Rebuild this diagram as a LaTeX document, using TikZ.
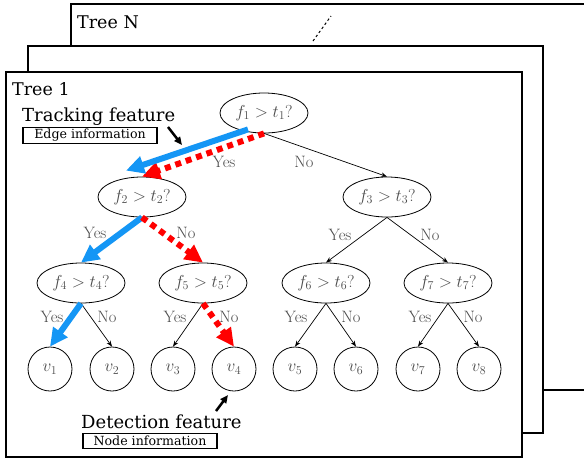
\documentclass[tikz,border=0pt]{standalone}
\usepackage{fontspec}
\newfontfamily\schfont{DejaVu Serif}
\usetikzlibrary{arrows.meta,shapes.geometric}
\definecolor{myblue}{RGB}{20,150,245}
\definecolor{txtgray}{RGB}{75,75,75}
\begin{document}
\begin{tikzpicture}[x=1pt,y=-1pt,
  frame/.style={draw, fill=white, line width=1.2pt},
  dec/.style={ellipse, draw, line width=0.8pt, minimum width=88pt, minimum height=40pt, inner sep=0pt, text=txtgray, font=\fontsize{18.5}{20}\selectfont},
  leaf/.style={circle, draw, line width=0.8pt, minimum size=44pt, inner sep=0pt, text=txtgray, font=\fontsize{18.5}{20}\selectfont},
  lbl/.style={text=txtgray, font=\fontsize{16.5}{18}\selectfont, inner sep=0pt},
  edge/.style={-{Stealth[length=6pt,width=4.5pt]}, line width=0.7pt},
  bluepath/.style={myblue, line width=6pt, -{Triangle[length=18pt,width=17pt]}},
  redpath/.style={red, line width=6pt, dash pattern=on 6pt off 5pt, -{Triangle[length=18pt,width=17pt]}},
  callout/.style={line width=2.5pt, -{Triangle[length=8pt,width=7pt]}},
  infobox/.style={draw, line width=1.2pt, minimum width=134pt, minimum height=15.5pt, inner sep=0pt, font=\schfont\fontsize{12.6}{14}\selectfont},
  bigtxt/.style={font=\schfont\fontsize{18}{20}\selectfont, inner sep=0pt, anchor=base west},
  treelbl/.style={font=\schfont\fontsize{17.5}{20}\selectfont, inner sep=0pt, anchor=base west}]
\useasboundingbox (0,0) rectangle (584,459);
\clip (0,0) rectangle (584,459);
\fill[white] (0,0) rectangle (584,459);
% frames
\draw[frame] (71,4) rectangle (600,390);
\draw[frame] (28,46) rectangle (543,433);
\draw[frame] (6,72) rectangle (522,457);
\node[treelbl] (treeN) at (77,28) {Tree N};
\coordinate (dotA) at (313,41);
\coordinate (dotB) at (331,16);
\draw[line width=1pt, dash pattern=on 2.5pt off 2.5pt] (dotA) -- (dotB);
\node[treelbl] (tree1) at (12,95) {Tree 1};
% decision nodes
\node[dec] (f1) at (264,113) {$f_1 > t_1?$};
\node[dec] (f2) at (142,197) {$f_2 > t_2?$};
\node[dec] (f3) at (387,197) {$f_3 > t_3?$};
\node[dec] (f4) at (81,283) {$f_4 > t_4?$};
\node[dec] (f5) at (203,283) {$f_5 > t_5?$};
\node[dec] (f6) at (326,283) {$f_6 > t_6?$};
\node[dec] (f7) at (448,283) {$f_7 > t_7?$};
% leaves
\node[leaf] (v1) at (50,369) {$v_1$};
\node[leaf] (v2) at (112,369) {$v_2$};
\node[leaf] (v3) at (173,369) {$v_3$};
\node[leaf] (v4) at (234,369) {$v_4$};
\node[leaf] (v5) at (295,369) {$v_5$};
\node[leaf] (v6) at (356,369) {$v_6$};
\node[leaf] (v7) at (418,369) {$v_7$};
\node[leaf] (v8) at (479,369) {$v_8$};
% plain edges
\draw[edge] (f1.south) -- (f3.north);
\draw[edge] (f3.south) -- (f6.north);
\draw[edge] (f3.south) -- (f7.north);
\draw[edge] (f4.south) -- (v2.north);
\draw[edge] (f5.south) -- (v3.north);
\draw[edge] (f6.south) -- (v5.north);
\draw[edge] (f6.south) -- (v6.north);
\draw[edge] (f7.south) -- (v7.north);
\draw[edge] (f7.south) -- (v8.north);
% highlighted paths
\draw[redpath] (f1.south) -- (f2.north);
\draw[bluepath] ([shift={(-16,-4)}]f1.south) -- ([shift={(-16,-6)}]f2.north);
\draw[bluepath] (f2.south) -- (f4.north);
\draw[redpath] (f2.south) -- (f5.north);
\draw[bluepath] (f4.south) -- (v1.north);
\draw[redpath] (f5.south) -- (v4.north);
% labels
\node[lbl] (y1) at (224,162) {Yes};
\node[lbl] (n1) at (304,162) {No};
\node[lbl] (y2) at (95,233) {Yes};
\node[lbl] (n2) at (186,233) {No};
\node[lbl] (y3) at (340,235) {Yes};
\node[lbl] (n3) at (430,235) {No};
\node[lbl] (y4) at (52,317) {Yes};
\node[lbl] (n4) at (107,317) {No};
\node[lbl] (y5) at (175,317) {Yes};
\node[lbl] (n5) at (229,317) {No};
\node[lbl] (y6) at (296,317) {Yes};
\node[lbl] (n6) at (351,317) {No};
\node[lbl] (y7) at (420,317) {Yes};
\node[lbl] (n7) at (473,317) {No};
% annotations
\node[bigtxt] (track) at (22,121) {Tracking feature};
\node[infobox] (edgeinfo) at (90,135.5) {Edge information};
\coordinate (tA) at (168,127);
\coordinate (tB) at (182,145);
\draw[callout] (tA) -- (tB);
\node[bigtxt] (detect) at (81,428) {Detection feature};
\node[infobox] (nodeinfo) at (150,441) {Node information};
\coordinate (dA) at (216,411);
\coordinate (dB) at (228,395);
\draw[callout] (dA) -- (dB);
\end{tikzpicture}
\end{document}
